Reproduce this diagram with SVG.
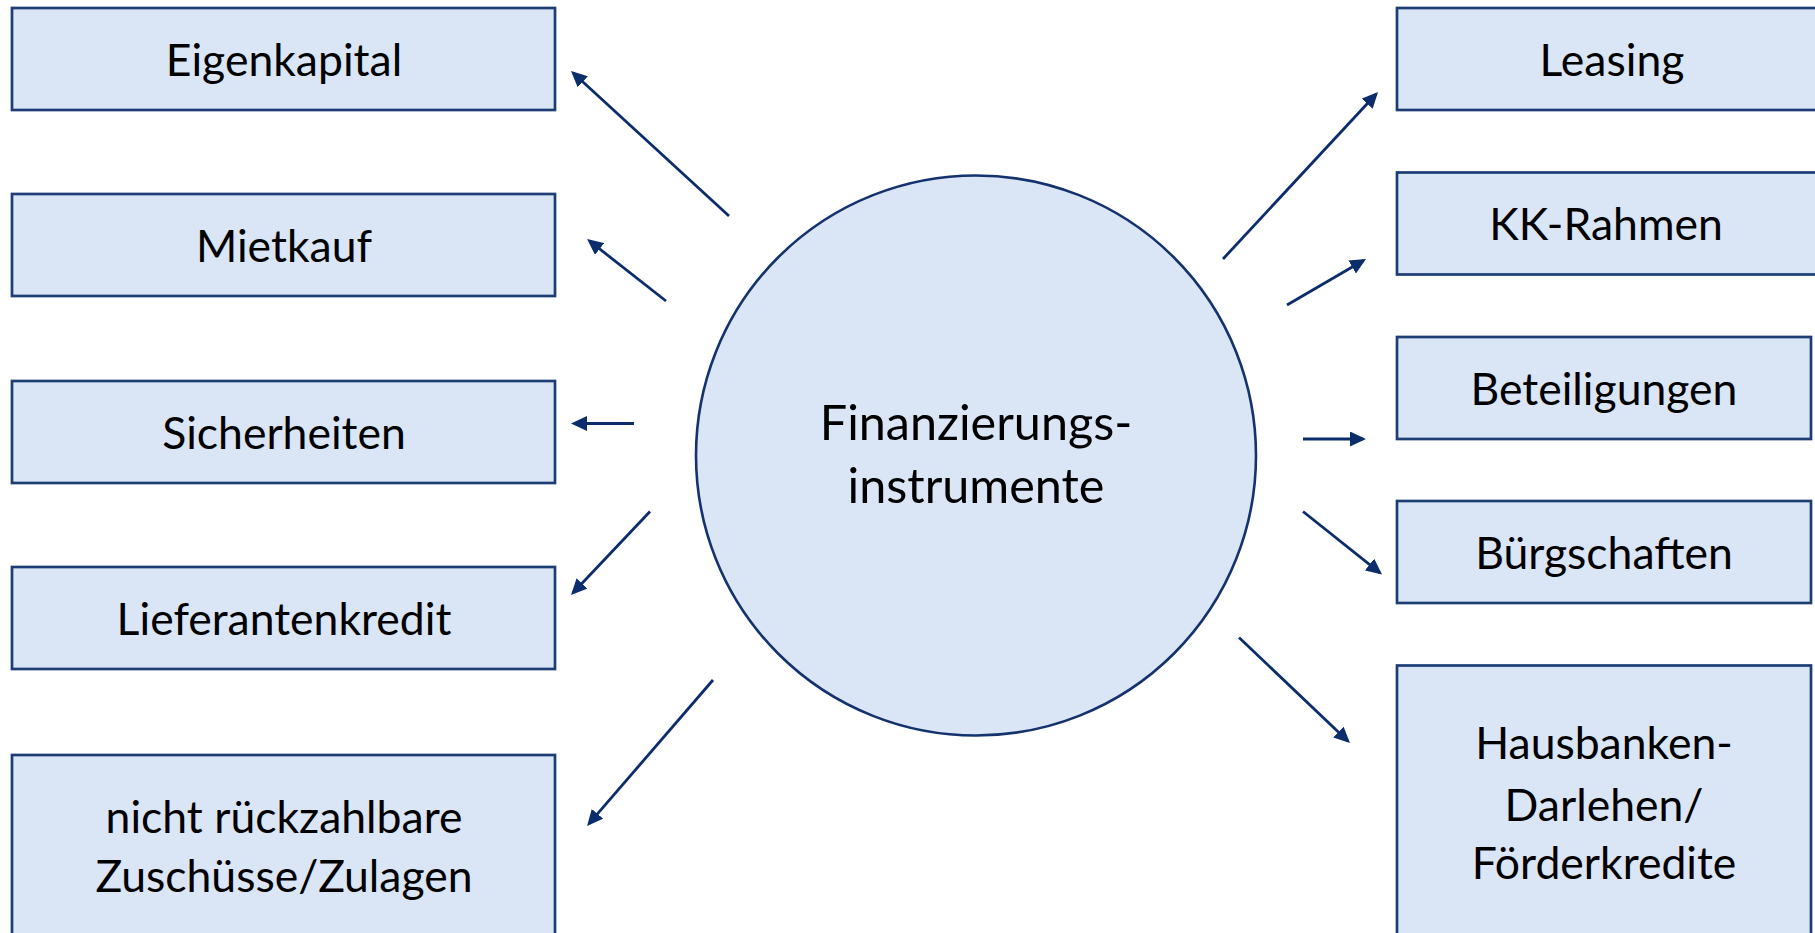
<svg xmlns="http://www.w3.org/2000/svg" width="1815" height="933" viewBox="0 0 1815 933">
<style>
.box{fill:#DAE6F6;stroke:#1D3D75;stroke-width:2.7}
.hub{fill:#DAE6F6;stroke:#14336E;stroke-width:2.6}
.lbl{font-family:"Lato","Open Sans",sans-serif;font-size:44.5px;fill:#000;text-anchor:middle}
.hubt{font-family:"Lato","Open Sans",sans-serif;font-size:48.5px;fill:#000;text-anchor:middle}
.arr{stroke:#0C2D6B;stroke-width:2.8;fill:none;marker-end:url(#ah)}
</style>
<defs>
<marker id="ah" markerUnits="userSpaceOnUse" markerWidth="16" markerHeight="15" refX="13" refY="7.5" orient="auto" viewBox="0 0 16 15">
<path d="M0,0 L16,7.5 L0,15 z" fill="#0C2D6B"/>
</marker>
</defs>
<rect width="1815" height="933" fill="#FFFFFF"/>

<g id="connectors">
<line class="arr" x1="729" y1="216" x2="573.2" y2="73"/>
<line class="arr" x1="666" y1="301" x2="589.4" y2="240.9"/>
<line class="arr" x1="634" y1="423.5" x2="574" y2="423.5"/>
<line class="arr" x1="650" y1="511.5" x2="573.1" y2="592.8"/>
<line class="arr" x1="713" y1="680" x2="589" y2="823.7"/>
<line class="arr" x1="1223" y1="259" x2="1376" y2="94.2"/>
<line class="arr" x1="1287" y1="305" x2="1363.4" y2="260.5"/>
<line class="arr" x1="1303" y1="439" x2="1363" y2="439"/>
<line class="arr" x1="1303" y1="511.5" x2="1379.7" y2="572.6"/>
<line class="arr" x1="1239" y1="637.5" x2="1347.8" y2="740.9"/>
</g>

<g id="hub">
<ellipse class="hub" cx="976" cy="455.5" rx="280" ry="280"/>
<text class="hubt" x="976" y="440">Finanzierungs-</text>
<text class="hubt" x="976" y="503">instrumente</text>
</g>

<g id="eigenkapital">
<rect class="box" x="12" y="8" width="543" height="102"/>
<text class="lbl" x="284" y="75.5">Eigenkapital</text>
</g>
<g id="mietkauf">
<rect class="box" x="12" y="194" width="543" height="102"/>
<text class="lbl" x="284" y="261.5">Mietkauf</text>
</g>
<g id="sicherheiten">
<rect class="box" x="12" y="381" width="543" height="102"/>
<text class="lbl" x="284" y="448.5">Sicherheiten</text>
</g>
<g id="lieferantenkredit">
<rect class="box" x="12" y="567" width="543" height="102"/>
<text class="lbl" x="284" y="634.5">Lieferantenkredit</text>
</g>
<g id="zuschuesse">
<rect class="box" x="12" y="755" width="543" height="200"/>
<text class="lbl" x="284" y="833">nicht rückzahlbare</text>
<text class="lbl" x="284" y="891.5">Zuschüsse/Zulagen</text>
</g>

<g id="leasing">
<rect class="box" x="1397" y="8" width="440" height="102"/>
<text class="lbl" x="1612" y="75.5">Leasing</text>
</g>
<g id="kk-rahmen">
<rect class="box" x="1397" y="172.5" width="440" height="102"/>
<text class="lbl" x="1606" y="240">KK-Rahmen</text>
</g>
<g id="beteiligungen">
<rect class="box" x="1397" y="337" width="414" height="102"/>
<text class="lbl" x="1604" y="404.5">Beteiligungen</text>
</g>
<g id="buergschaften">
<rect class="box" x="1397" y="501" width="414" height="102"/>
<text class="lbl" x="1604" y="568.5">Bürgschaften</text>
</g>
<g id="hausbanken">
<rect class="box" x="1397" y="665.5" width="414" height="300"/>
<text class="lbl" x="1604" y="758.5">Hausbanken-</text>
<text class="lbl" x="1604" y="820.5">Darlehen/</text>
<text class="lbl" x="1604" y="879">Förderkredite</text>
</g>
</svg>
